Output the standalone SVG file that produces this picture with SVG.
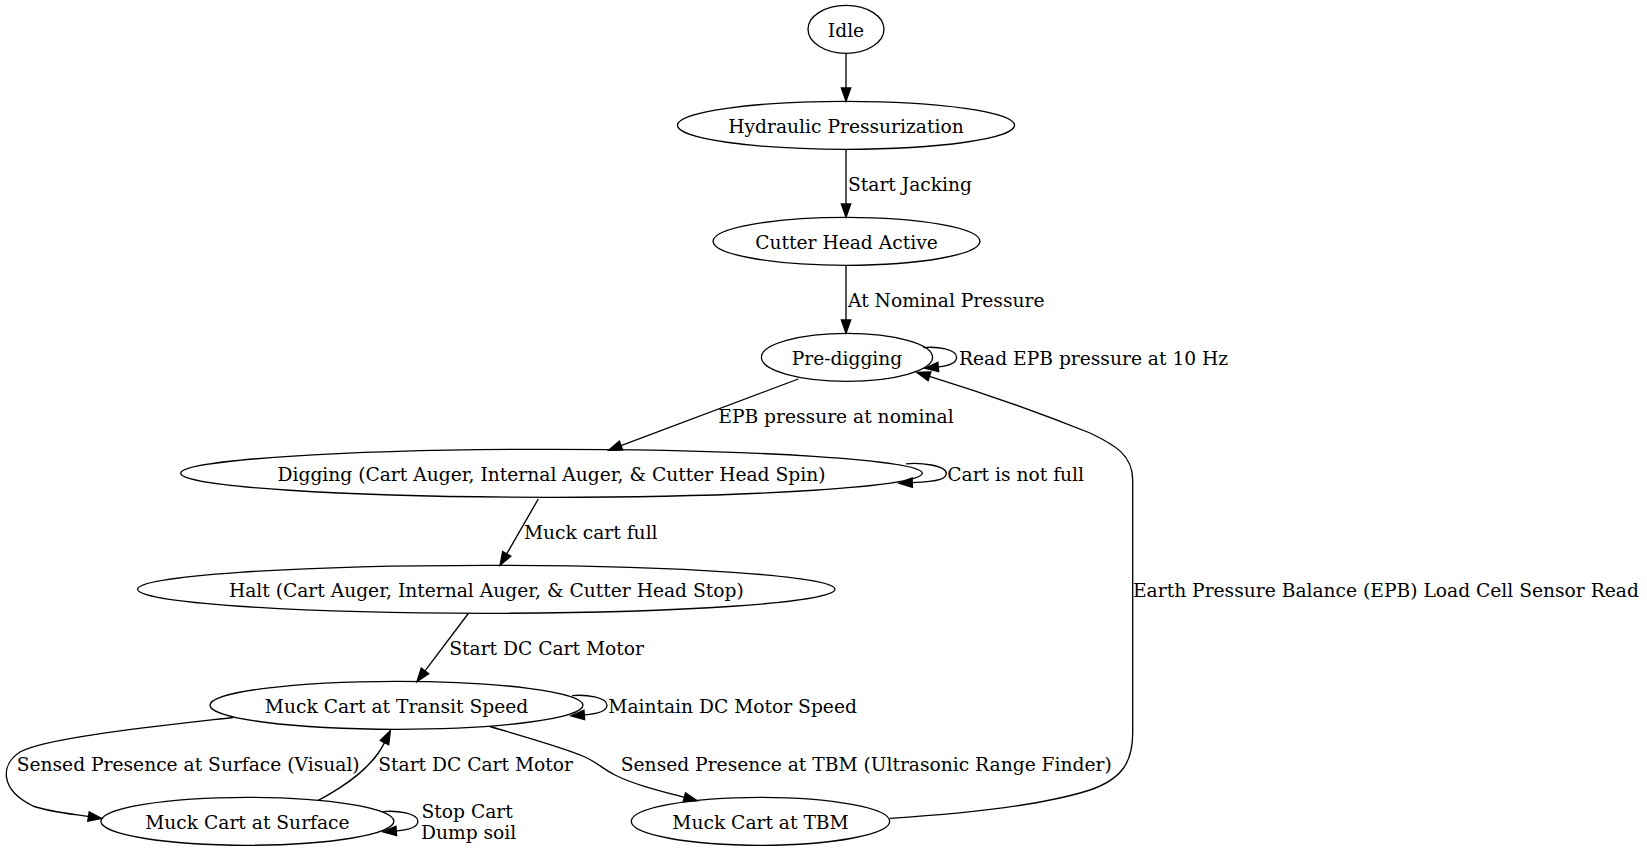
<svg xmlns="http://www.w3.org/2000/svg" width="1647" height="852" viewBox="0 0 1647 852">
<style>
.node ellipse { fill: none; stroke: #000; stroke-width: 1.33; }
text { font-family: "DejaVu Serif", serif; font-size: 18.67px; fill: #000; }
.node text { text-anchor: middle; }
.edge path { fill: none; stroke: #000; stroke-width: 1.33; marker-end: url(#arrow); }
</style>
<defs>
<marker id="arrow" markerUnits="userSpaceOnUse" markerWidth="20" markerHeight="14" refX="0" refY="0" orient="auto" overflow="visible" viewBox="-2 -7 20 14">
<path d="M0,-4.67 L13.33,0 L0,4.67 Z" fill="#000" stroke="#000" stroke-width="1.33"/>
</marker>
</defs>
<rect x="0" y="0" width="1647" height="852" fill="#fff"/>
<g id="edges" class="edge">
<path d="M846,53.3 L846,88"/>
<path d="M846,149.3 L846,204"/>
<text x="848" y="190.5">Start Jacking</text>
<path d="M846,265.3 L846,320"/>
<text x="848" y="306.5">At Nominal Pressure</text>
<path d="M923.3,347.6 C937.3,346.2 956.6,349.4 956.6,357.3 C956.6,362.2 951.6,365.6 938.3,366.9"/>
<text x="959" y="364.5">Read EPB pressure at 10 Hz</text>
<path d="M798.3,379 L621,445.6"/>
<text x="718.3" y="422.5">EPB pressure at nominal</text>
<path d="M906,463.8 C920,462.2 946.3,465.4 946.3,473.3 C946.3,478.2 941.3,481.6 912.3,482.6"/>
<text x="947.3" y="480.5">Cart is not full</text>
<path d="M538.3,499 L506.7,553.8"/>
<text x="524" y="538.5">Muck cart full</text>
<path d="M468.3,613.5 L425,670.9"/>
<text x="449.3" y="654.5">Start DC Cart Motor</text>
<path d="M572,695.6 C586,694.2 607,697.4 607,705.3 C607,710.2 602,713.6 584.3,714.9"/>
<text x="608.3" y="712.5">Maintain DC Motor Speed</text>
<path d="M233,717.5 C150,727 45,738 20,752 C0,765 0,790 33,806 C50,812 72,814 88.5,816.5"/>
<text x="16.7" y="771">Sensed Presence at Surface (Visual)</text>
<path d="M318.3,800.3 C345,786 372,768 384.5,742.6"/>
<text x="378.3" y="771">Start DC Cart Motor</text>
<path d="M490,726.5 C525,737 565,748 585,757 C598,763 603,769 615,775 C635,785 660,791 684.3,797.3"/>
<text x="620.8" y="771">Sensed Presence at TBM (Ultrasonic Range Finder)</text>
<path d="M383,811.6 C397,810.2 417.9,813.4 417.9,821.3 C417.9,826.2 412.9,829.6 396.3,830.9"/>
<text x="421.5" y="818">Stop Cart</text>
<text x="421" y="839">Dump soil</text>
<path d="M890,818.3 C960,814 1040,806 1090,790 C1122,779 1132.7,762 1132.7,733 L1132.7,480 C1132.7,455 1115,445 1090,433 C1050,417 990,395 929.5,376.3"/>
<text x="1133" y="596.5">Earth Pressure Balance (EPB) Load Cell Sensor Read</text>
</g>
<g id="n_idle" class="node"><ellipse cx="846" cy="29.3" rx="38" ry="24"/><text x="846" y="36.8">Idle</text></g>
<g id="n_hyd" class="node"><ellipse cx="846" cy="125.3" rx="168.6" ry="24"/><text x="846" y="132.8">Hydraulic Pressurization</text></g>
<g id="n_cutter" class="node"><ellipse cx="846.5" cy="241.3" rx="133.4" ry="24"/><text x="846.5" y="248.8">Cutter Head Active</text></g>
<g id="n_pre" class="node"><ellipse cx="847" cy="357.3" rx="85.6" ry="24"/><text x="847" y="364.8">Pre-digging</text></g>
<g id="n_dig" class="node"><ellipse cx="551.5" cy="473.3" rx="370.8" ry="24"/><text x="551.5" y="480.8">Digging (Cart Auger, Internal Auger, &amp; Cutter Head Spin)</text></g>
<g id="n_halt" class="node"><ellipse cx="486.3" cy="589.3" rx="348.7" ry="24"/><text x="486.3" y="596.8">Halt (Cart Auger, Internal Auger, &amp; Cutter Head Stop)</text></g>
<g id="n_transit" class="node"><ellipse cx="396.5" cy="705.3" rx="186.5" ry="24"/><text x="396.5" y="712.8">Muck Cart at Transit Speed</text></g>
<g id="n_surface" class="node"><ellipse cx="247.4" cy="821.3" rx="146.5" ry="24"/><text x="247.4" y="828.8">Muck Cart at Surface</text></g>
<g id="n_tbm" class="node"><ellipse cx="760.5" cy="821.3" rx="129.2" ry="24"/><text x="760.5" y="828.8">Muck Cart at TBM</text></g>
</svg>
